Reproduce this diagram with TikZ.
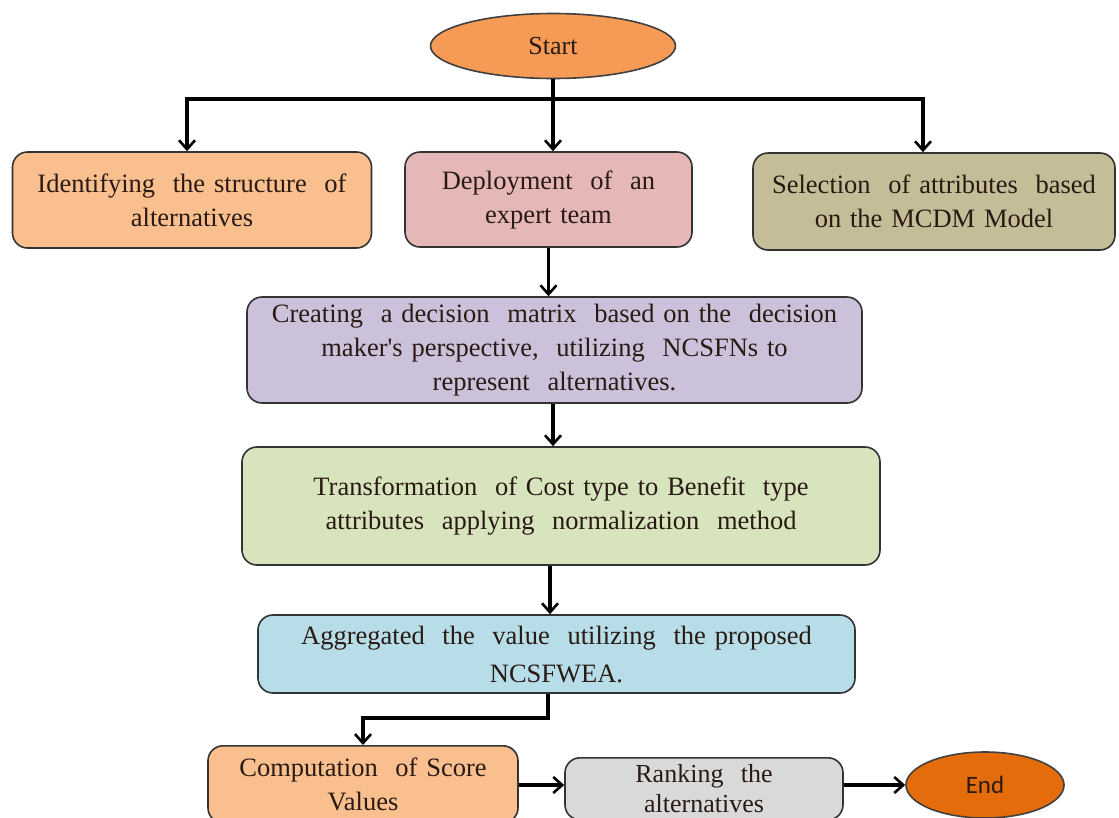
\documentclass[tikz,border=0pt]{standalone}
\usepackage{fontspec}
\setmainfont{Liberation Serif}
\newfontfamily\calib{Carlito}
\usetikzlibrary{shapes.geometric,arrows.meta}
\definecolor{txt}{HTML}{2A1A14}
\definecolor{cstart}{HTML}{F59B55}
\definecolor{cpeach}{HTML}{F9BF8F}
\definecolor{cpink}{HTML}{E5B8B7}
\definecolor{ckhaki}{HTML}{C4BD97}
\definecolor{clav}{HTML}{CCC1DA}
\definecolor{cgreen}{HTML}{D7E4BD}
\definecolor{cblue}{HTML}{B7DEE8}
\definecolor{cgrey}{HTML}{D9D9D9}
\definecolor{cend}{HTML}{E46C0A}
\tikzset{
  boxst/.style={draw=black!80, line width=1.6pt, rounded corners=15pt, align=center,
     text=txt, font=\fontsize{26.5}{34}\selectfont, inner sep=2pt},
  ellst/.style={draw=black!75, line width=1.6pt, ellipse, text=txt, inner sep=0pt},
  conn/.style={draw=black, line width=3.2pt, -{Straight Barb[length=9pt,width=16pt,line width=2.6pt]}},
  plain/.style={draw=black, line width=3.2pt}
}
\begin{document}
\begin{tikzpicture}[x=1pt,y=-1pt]
\clip (0,0) rectangle (1119,817);
\fill[white] (0,0) rectangle (1119,817);
\node[ellst, fill=cstart, minimum width=245pt, minimum height=65pt, font=\fontsize{26}{30}\selectfont] (start) at (553,46) {Start};
\node[boxst, fill=cpeach, minimum width=359pt, minimum height=96pt, text width=352pt] (b1) at (192,200) {Identifying\ \ the structure\ \ of\\alternatives};
\node[boxst, fill=cpink, minimum width=287pt, minimum height=95pt, text width=282pt] (b2) at (548.5,199.5) {Deployment\ \ of\ \ an\\expert team};
\node[boxst, fill=ckhaki, minimum width=362pt, minimum height=97pt, text width=356pt] (b3) at (934,201.5) {Selection\ \ of attributes\ \ based\\on the MCDM Model};
\node[boxst, fill=clav, minimum width=615pt, minimum height=106pt, text width=605pt] (b4) at (554.5,350) {Creating\ \ a decision\ \ matrix\ \ based on the\ \ decision\\maker\textquotesingle s perspective,\ \ utilizing\ \ NCSFNs to\\represent\ \ alternatives.};
\node[boxst, fill=cgreen, minimum width=638pt, minimum height=118pt, text width=625pt] (b5) at (561,506) {Transformation\ \ of Cost type to Benefit\ \ type\\attributes\ \ applying\ \ normalization\ \ method};
\node[boxst, fill=cblue, minimum width=597pt, minimum height=78pt, text width=585pt, font=\fontsize{26.5}{38}\selectfont] (b6) at (556.5,654) {Aggregated\ \ the\ \ value\ \ utilizing\ \ the proposed\\NCSFWEA.};
\node[boxst, fill=cpeach, minimum width=310pt, minimum height=77pt, text width=300pt, anchor=north] (b7) at (363,745) {Computation\ \ of Score\\Values};
\node[boxst, fill=cgrey, minimum width=278pt, minimum height=62pt, text width=270pt, anchor=north, font=\fontsize{26}{30}\selectfont] (b8) at (704,757) {Ranking\ \ the\\alternatives};
\node[ellst, fill=cend, minimum width=158pt, minimum height=66pt, font=\calib\fontsize{25}{30}\selectfont] (end) at (985,785) {End};
% connectors
\coordinate (jc) at (553,99);
\coordinate (jl) at (187,99);
\coordinate (jr) at (923,99);
\draw[plain] (start.south) -- (jc);
\draw[plain] ([xshift=-1.6pt]jl) -- ([xshift=1.6pt]jr);
\draw[conn] (jl) -- (jl |- b1.north);
\draw[conn] (jc) -- (jc |- b2.north);
\draw[conn] (jr) -- (jr |- b3.north);
\draw[conn] (b2.south) -- (b2.south |- b4.north);
\draw[conn] ([xshift=-1.5pt]b4.south) -- ([xshift=-1.5pt]b4.south |- b5.north);
\draw[conn] ([xshift=-11pt]b5.south) -- ([xshift=-11pt]b5.south |- b6.north);
\coordinate (e1) at (548,718);
\draw[conn] (b6.south -| e1) -- (e1) -- (e1 -| b7.north) -- (b7.north);
\draw[conn] (b7.east |- end.west) -- (b8.west |- end.west);
\draw[conn] (b8.east |- end.west) -- (end.west);
\end{tikzpicture}
\end{document}
